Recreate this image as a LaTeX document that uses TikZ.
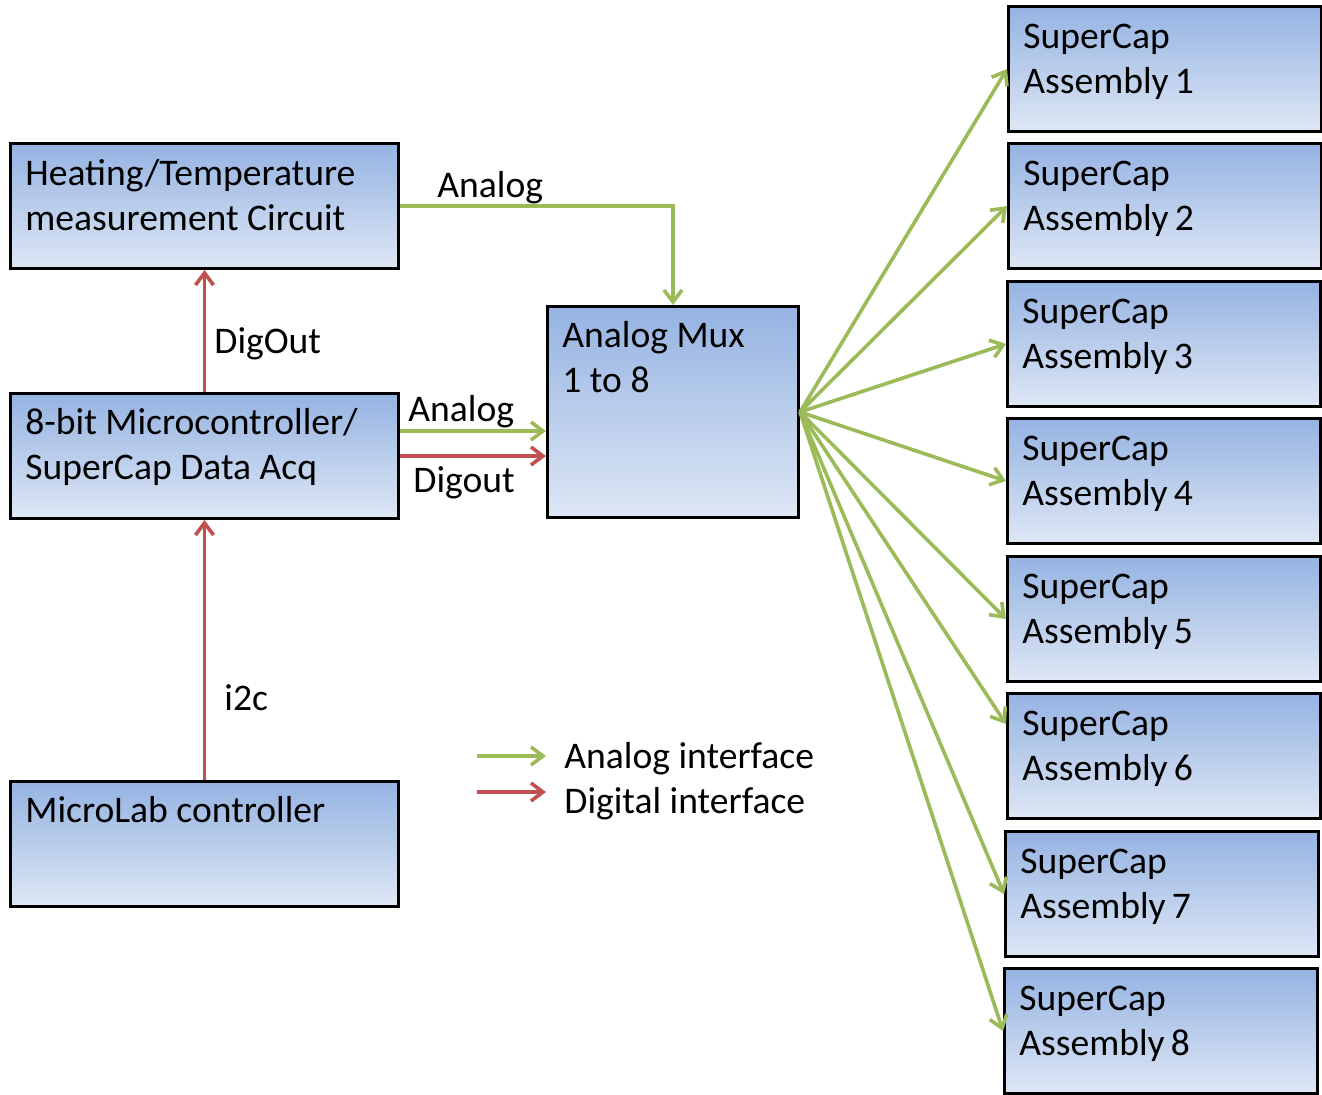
\documentclass[tikz,border=0pt]{standalone}
\usepackage{fontspec}
\setmainfont{Carlito}
\usetikzlibrary{arrows.meta}

\definecolor{anagreen}{RGB}{155,187,89}
\definecolor{digred}{RGB}{192,80,77}
\definecolor{boxtop}{RGB}{149,179,226}
\definecolor{boxbot}{RGB}{222,231,245}

\tikzset{
  block/.style={draw=black, line width=1.5pt, top color=boxtop, bottom color=boxbot,
    anchor=north west, inner sep=0pt},
  blocktext/.style={anchor=north west, align=left, inner sep=0pt,
    font=\fontsize{18.8}{22.5}\selectfont},
  lbl/.style={anchor=base west, inner sep=0pt, font=\fontsize{18.8}{22.5}\selectfont},
  analog/.style={draw=anagreen, line width=1.8pt, -{Straight Barb[length=6pt,width=9pt]}},
  digital/.style={draw=digred, line width=1.8pt, -{Straight Barb[length=6pt,width=9pt]}}
}

\begin{document}
\begin{tikzpicture}[x=0.5pt, y=-0.5pt]
    \useasboundingbox (0,0) rectangle (1322,1094);

    % Left column
    \node[block, minimum width=194pt, minimum height=62.5pt] (heat) at (9,142) {};
    \node[block, minimum width=194pt, minimum height=62.5pt] (mcu) at (9,392) {};
    \node[block, minimum width=194pt, minimum height=62.5pt] (micro) at (9,780) {};
    \node[blocktext] (heattxt) at ([shift={(8pt,-8.5pt)}]heat.north west) {Heating/Temperature\\measurement Circuit};
    \node[blocktext] (mcutxt) at ([shift={(8pt,-8pt)}]mcu.north west) {8-bit Microcontroller/\\SuperCap Data Acq};
    \node[blocktext] (microtxt) at ([shift={(8pt,-8pt)}]micro.north west) {MicroLab controller};

    % Mux
    \node[block, minimum width=125.5pt, minimum height=105.5pt] (mux) at (546,305) {};
    \node[blocktext] (muxtxt) at ([shift={(8pt,-8pt)}]mux.north west) {Analog Mux\\1 to 8};

    % SuperCap assemblies
    \foreach \i/\x/\y in {1/1007/5, 2/1007/142, 3/1006/280, 4/1006/417,
                          5/1006/555, 6/1006/692, 7/1004/830, 8/1003/967} {
        \node[block, minimum width=156.5pt, minimum height=62.5pt] (sc\i) at (\x,\y) {};
        \node[blocktext] (sctxt\i) at ([shift={(8pt,-9.5pt)}]sc\i.north west) {SuperCap\\Assembly\,\i};
    }

    % Connections
    \draw[analog] (heat.east) -| (mux.north);
    \node[lbl] (lanatop) at (437,197) {Analog};
    \draw[digital] (mcu.north) -- (heat.south);
    \node[lbl] (ldigout) at (214,353) {DigOut};
    \draw[digital] (micro.north) -- (mcu.south);
    \node[lbl] (li2c) at (224,710) {i2c};
    \draw[analog] ([yshift=12.5pt]mcu.east) -- ([yshift=12.5pt]mcu.east -| mux.west);
    \node[lbl] (lana) at (408,421) {Analog};
    \draw[digital] (mcu.east) -- (mcu.east -| mux.west);
    \node[lbl] (ldig) at (413,492) {Digout};

    % Fan out to the assemblies
    \foreach \i/\dy in {1/0pt, 2/0pt, 3/0pt, 4/0pt, 5/0pt, 6/16pt, 7/0pt, 8/0pt} {
        \draw[analog] (mux.east) -- ([yshift=\dy]sc\i.west);
    }

    % Legend
    \coordinate (ga) at (477,756);
    \coordinate (gb) at (546,756);
    \coordinate (ra) at (477,792);
    \coordinate (rb) at (546,792);
    \draw[analog] (ga) -- (gb);
    \draw[digital] (ra) -- (rb);
    \node[lbl] (legana) at (564,768) {Analog interface};
    \node[lbl] (legdig) at (564,813) {Digital interface};
\end{tikzpicture}
\end{document}
